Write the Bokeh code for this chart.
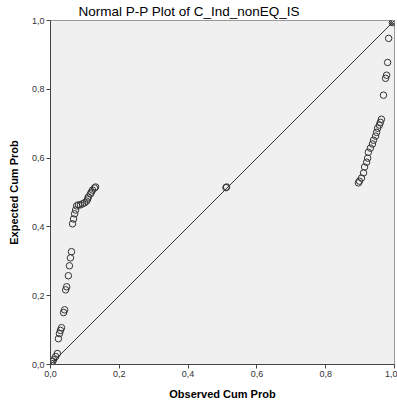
from bokeh.plotting import figure
from bokeh.models import Range1d, FixedTicker, ColumnDataSource
from bokeh.embed import file_html
from bokeh.resources import INLINE

observed = [0.003, 0.006, 0.009, 0.015, 0.020, 0.023, 0.026, 0.029, 0.032, 0.038,
            0.041, 0.044, 0.047, 0.052, 0.055, 0.058, 0.061,
            0.064, 0.067, 0.070, 0.073, 0.076, 0.081, 0.087, 0.093, 0.099, 0.105,
            0.108, 0.110, 0.116, 0.119, 0.122, 0.128, 0.131,
            0.510, 0.512,
            0.895, 0.898, 0.904, 0.910, 0.913, 0.919, 0.922, 0.924, 0.930, 0.936,
            0.939, 0.945, 0.948, 0.951, 0.956, 0.959, 0.962,
            0.968, 0.974, 0.977, 0.980, 0.983, 0.994, 0.997, 1.000]
expected = [0.003, 0.009, 0.014, 0.023, 0.032, 0.075, 0.090, 0.099, 0.107, 0.151,
            0.159, 0.217, 0.226, 0.258, 0.287, 0.310, 0.328,
            0.409, 0.423, 0.438, 0.449, 0.461, 0.464, 0.464, 0.467, 0.470, 0.475,
            0.481, 0.487, 0.496, 0.501, 0.507, 0.513, 0.516,
            0.514, 0.516,
            0.528, 0.533, 0.542, 0.557, 0.574, 0.588, 0.600, 0.617, 0.629, 0.641,
            0.652, 0.664, 0.675, 0.687, 0.696, 0.704, 0.713,
            0.783, 0.832, 0.841, 0.878, 0.948, 0.994, 0.997, 1.000]
ref_line = [0.0, 1.0]
ticks = [0.0, 0.2, 0.4, 0.6, 0.8, 1.0]
tick_labels = ["0,0", "0,2", "0,4", "0,6", "0,8", "1,0"]

p = figure(width=397, height=411, output_backend="svg", toolbar_location=None,
           x_range=Range1d(0, 1), y_range=Range1d(0, 1),
           title="Normal P-P Plot of C_Ind_nonEQ_IS",
           min_border_left=50, min_border_right=3, min_border_top=19, min_border_bottom=47)
p.title.align = "left"
p.title.text_font = "Liberation Sans"
p.title.text_font_size = "13.5px"
p.title.text_font_style = "normal"
p.title.text_color = "#000000"
p.title.offset = 28
p.title.standoff = 3
p.background_fill_color = "#F0F0F0"
p.border_fill_color = "#FFFFFF"
p.outline_line_color = "#999999"
p.grid.visible = False

p.line(ref_line, ref_line, line_color="#333333", line_width=1)
src = ColumnDataSource(dict(x=observed, y=expected))
p.scatter("x", "y", source=src, size=6.5, fill_alpha=0, line_color="#333333", line_width=1)

for ax, lab in ((p.xaxis[0], "Observed Cum Prob"), (p.yaxis[0], "Expected Cum Prob")):
    ax.ticker = FixedTicker(ticks=ticks)
    ax.major_label_overrides = {t: l for t, l in zip(ticks, tick_labels)}
    ax.minor_tick_line_color = None
    ax.major_tick_in = 0
    ax.major_tick_out = 4
    ax.axis_line_color = "#444444"
    ax.major_tick_line_color = "#444444"
    ax.major_label_text_font = "Liberation Sans"
    ax.major_label_text_font_size = "9px"
    ax.major_label_text_color = "#333333"
    ax.major_label_standoff = 2
    ax.axis_label = lab
    ax.axis_label_text_font = "Liberation Sans"
    ax.axis_label_text_font_size = "11px"
    ax.axis_label_text_font_style = "bold"
    ax.axis_label_text_color = "#000000"
p.xaxis[0].axis_label_standoff = 8
p.yaxis[0].axis_label_standoff = 9

open("out.html", "w").write(file_html(p, INLINE))
